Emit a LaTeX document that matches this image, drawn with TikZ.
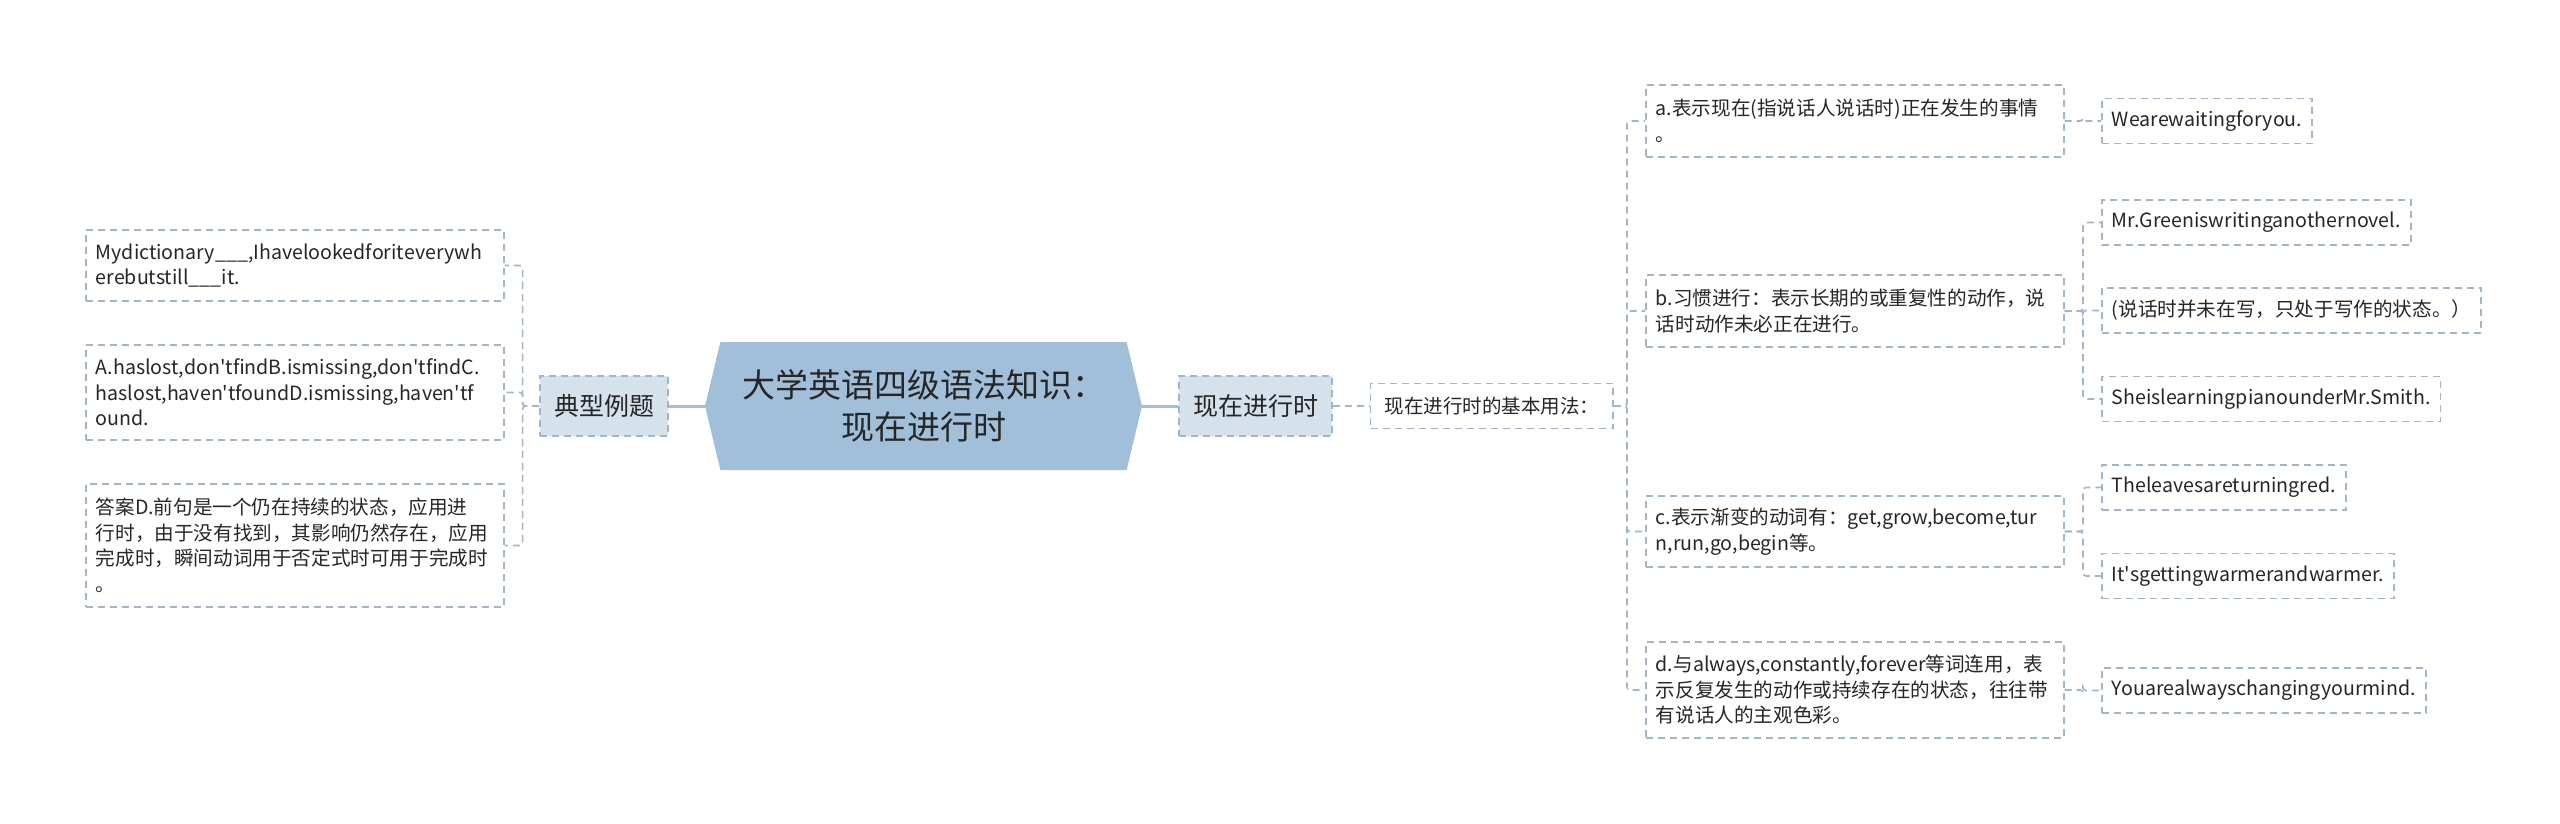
\documentclass[tikz,border=0pt]{standalone}
\usepackage{fontspec}
\setmainfont{Noto Sans CJK SC}
\usetikzlibrary{positioning,shapes.symbols}
\definecolor{linkcol}{HTML}{A3B5C8}
\definecolor{hubfill}{HTML}{A2BFDA}
\definecolor{topicfill}{HTML}{D5E1EB}
\definecolor{inkcol}{HTML}{262626}

\begin{document}
\begin{tikzpicture}[x=1pt,y=-1pt,node distance=37pt]
  \tikzset{hub/.style={signal,signal to=west and east,signal pointer angle=153,fill=hubfill,minimum width=437pt,minimum height=128pt,align=center,text=inkcol,font=\fontsize{33}{42}\selectfont},
    topic/.style={draw=linkcol,line width=1.6pt,dash pattern=on 7pt off 5pt,fill=topicfill,minimum height=60pt,inner xsep=14pt,text=inkcol,font=\fontsize{25}{30}\selectfont},
    leaf/.style={draw=linkcol,line width=1.6pt,dash pattern=on 7pt off 5pt,fill=white,anchor=west,minimum height=45pt,inner xsep=10pt,text=inkcol,font=\fontsize{19.6}{25.5}\selectfont},
    para/.style={leaf,text width=398pt,align=left,inner ysep=10pt},
    trunk/.style={draw=hubfill,line width=3pt},
    link/.style={draw=linkcol,line width=1.6pt,dash pattern=on 7pt off 5pt,rounded corners=3pt}}
  \useasboundingbox (0,0) rectangle (2560,824);
  \node[hub] (root) at (923.5,406) {大学英语四级语法知识：\\现在进行时};
  \node[topic,left=36pt of root] (ex) {典型例题};\node[topic,right=36pt of root] (tense) {现在进行时};
  \node[topic,fill=white,minimum height=45pt,minimum width=242pt,font=\fontsize{19.5}{24}\selectfont,right=37pt of tense] (usage) {现在进行时的基本用法：};
  % left branch
  \node[para,minimum height=71pt] (q1) at (85,265.5) {Mydictionary\_\_\_,Ihavelookedforiteverywh\\erebutstill\_\_\_it.};
  \node[para,minimum height=95pt] (q2) at (85,392.5) {A.haslost,don\textquotesingle tfindB.ismissing,don\textquotesingle tfindC.\\haslost,haven\textquotesingle tfoundD.ismissing,haven\textquotesingle tf\\ound.};
  \node[para,minimum height=123pt] (q3) at (85,545.5) {答案D.前句是一个仍在持续的状态，应用进\\行时，由于没有找到，其影响仍然存在，应用\\完成时，瞬间动词用于否定式时可用于完成时\\。};
  % right branch
  \node[para,minimum height=72pt] (ua) at (1645,121) {a.表示现在(指说话人说话时)正在发生的事情\\。};
  \node[para,minimum height=72pt] (ub) at (1645,311) {b.习惯进行：表示长期的或重复性的动作，说\\话时动作未必正在进行。};
  \node[para,minimum height=71pt] (uc) at (1645,531.5) {c.表示渐变的动词有：get,grow,become,tur\\n,run,go,begin等。};
  \node[para,minimum height=96pt] (ud) at (1645,690) {d.与always,constantly,forever等词连用，表\\示反复发生的动作或持续存在的状态，往往带\\有说话人的主观色彩。};
  \node[leaf] (wa) at (2101,121) {Wearewaitingforyou.};
  \node[leaf] (gb1) at (2101,222.5) {Mr.Greeniswritinganothernovel.};\node[leaf] (gb2) at (2101,310.5) {(说话时并未在写，只处于写作的状态。）};
  \node[leaf] (gb3) at (2101,399) {SheislearningpianounderMr.Smith.};
  \node[leaf] (gc1) at (2101,487.5) {Theleavesareturningred.};\node[leaf] (gc2) at (2101,576) {It\textquotesingle sgettingwarmerandwarmer.};
  \node[leaf] (gd) at (2101,690.5) {Youarealwayschangingyourmind.};
  \draw[trunk] (root.west) -- (ex.east);\draw[trunk] (root.east) -- (tense.west);\draw[link] (tense.east) -- (usage.west);
  \foreach \b in {q1,q2,q3}{\draw[link] (ex.west) -| ([xshift=18pt]\b.east) -- (\b.east);}
  \foreach \b in {ua,ub,uc,ud}{\draw[link] (usage.east) -| ([xshift=-18pt]\b.west) -- (\b.west);}
  \foreach \a/\b in {ua/wa,ub/gb1,ub/gb2,ub/gb3,uc/gc1,uc/gc2,ud/gd}{\draw[link] (\a.east) -| ([xshift=-18pt]\b.west) -- (\b.west);}
\end{tikzpicture}
\end{document}
